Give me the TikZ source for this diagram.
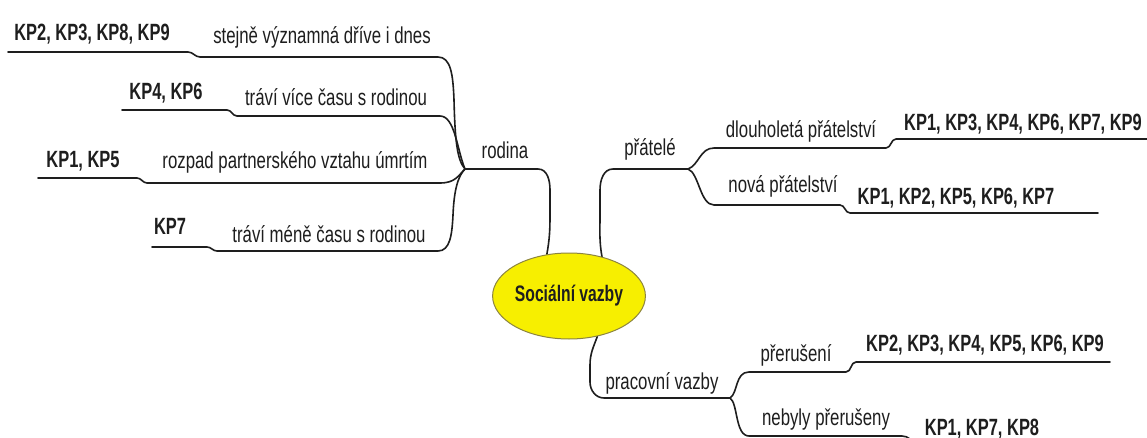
\documentclass[tikz,border=0pt]{standalone}
\usepackage{fontspec}
\setmainfont{Liberation Sans}[FakeStretch=0.73]
\newfontfamily\kpfont{Liberation Sans}[FakeStretch=0.70]
\usetikzlibrary{shapes.geometric}
\definecolor{txt}{HTML}{1E1E1E}
\definecolor{yel}{HTML}{F7EF00}
\definecolor{rim}{HTML}{8C8440}
\tikzset{
  lbl/.style={anchor=base, inner sep=0pt, text=txt, font=\fontsize{23}{26}\selectfont},
  kp/.style={anchor=base, inner sep=0pt, text=txt, font=\kpfont\fontsize{23.5}{26}\selectfont\bfseries},
  br/.style={draw=txt, line width=1.6pt, line cap=round, line join=round},
  hub/.style={ellipse, draw=rim, line width=1pt, fill=yel, minimum width=138pt, minimum height=86pt, inner sep=0pt, text=txt, font=\kpfont\fontsize{22.4}{26}\selectfont\bfseries}
}
\begin{document}
\begin{tikzpicture}[x=1pt,y=-1pt]
\useasboundingbox (0,0) rectangle (1147,438);
\fill[white] (0,0) rectangle (1147,438);
\clip (0,0) rectangle (1147,438);

% junctions and free ends
\coordinate (jr) at (465,169);
\coordinate (jp) at (688,169);
\coordinate (jw) at (730,398);
\coordinate (e1) at (8,52);
\coordinate (e2) at (122,110);
\coordinate (e3) at (38,178);
\coordinate (e4) at (152,247);
\coordinate (e5) at (1147,139);
\coordinate (e6) at (1098,213);
\coordinate (e7) at (1110,362);
\coordinate (e8) at (913,446);

% centre node position (outline used for connector anchors)
\path (569,296) coordinate (cc);
\node[hub, fill=none, draw=none] (c) at (cc) {\phantom{Sociální vazby}};

% rodina branches
\draw[br] (e1) -- (188,52) to[out=0,in=180] (200,57) -- (438,57)
  .. controls (451,57) and (453,75) .. (454,100) .. controls (455,140) and (457,160) .. (jr);
\draw[br] (e2) -- (227,110) to[out=0,in=180] (237,116) -- (440,116)
  .. controls (455,116) and (457,150) .. (jr);
\draw[br] (e3) -- (137,178) to[out=0,in=180] (147,183) -- (440,183)
  .. controls (455,183) and (458,176) .. (jr);
\draw[br] (e4) -- (207,247) to[out=0,in=180] (217,251) -- (438,251)
  .. controls (450,251) and (452,235) .. (453,215) .. controls (454,190) and (458,176) .. (jr);
\draw[br] (jr) -- (538,169) to[out=0,in=90] (550,190) -- (550,215) to[out=-90,in=80] (c.118);

% pratele branches
\draw[br] (c.50) to[out=100,in=-90] (600,215) -- (600,190) to[out=90,in=180] (613,169) -- (jp);
\draw[br] (jp) .. controls (699,165) and (700,148) .. (714,148) -- (886,148) to[out=0,in=180] (896,139) -- (e5);
\draw[br] (jp) .. controls (699,173) and (700,205) .. (714,205) -- (840,205) to[out=0,in=180] (850,213) -- (e6);

% pracovni vazby branches
\draw[br] (c.-55) to[out=-110,in=90] (590,365) -- (590,382) to[out=-90,in=180] (604,398) -- (jw);
\draw[br] (jw) .. controls (738,393) and (735,372) .. (749,372) -- (846,372) to[out=0,in=180] (856,362) -- (e7);
\draw[br] (jw) .. controls (738,403) and (735,436) .. (749,436) -- (902,436) to[out=0,in=90] (e8);

% centre node
\node[hub] (cv) at (cc) {Sociální vazby};

% labels
\node[kp]  (k1) at (92,41)   {KP2, KP3, KP8, KP9};
\node[lbl] (t1) at (322,44)  {stejně významná dříve i dnes};
\node[kp]  (k2) at (166,100) {KP4, KP6};
\node[lbl] (t2) at (336,106) {tráví více času s rodinou};
\node[kp]  (k3) at (83,168)  {KP1, KP5};
\node[lbl] (t3) at (295,169) {rozpad partnerského vztahu úmrtím};
\node[kp]  (k4) at (170,234) {KP7};
\node[lbl] (t4) at (329,242) {tráví méně času s rodinou};
\node[lbl] (rod) at (505,159) {rodina};
\node[lbl] (pra) at (650,156) {přátelé};
\node[lbl] (t5) at (801,138) {dlouholetá přátelství};
\node[kp]  (k5) at (1023,131) {KP1, KP3, KP4, KP6, KP7, KP9};
\node[lbl] (t6) at (783,193) {nová přátelství};
\node[kp]  (k6) at (956,205) {KP1, KP2, KP5, KP6, KP7};
\node[lbl] (prv) at (662,389) {pracovní vazby};
\node[lbl] (t7) at (796,361) {přerušení};
\node[kp]  (k7) at (985,351) {KP2, KP3, KP4, KP5, KP6, KP9};
\node[lbl] (t8) at (826,425) {nebyly přerušeny};
\node[kp]  (k8) at (982,435) {KP1, KP7, KP8};
\end{tikzpicture}
\end{document}
